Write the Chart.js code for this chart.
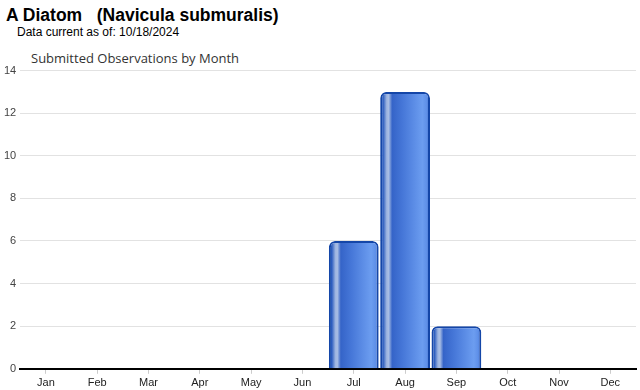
<!DOCTYPE html>
<html>
<head>
<meta charset="utf-8">
<script src="https://cdn.jsdelivr.net/npm/chart.js@4.4.1/dist/chart.umd.min.js"></script>
<style>
  body { margin: 0; background: #fff; font-family: Arial, "Liberation Sans", sans-serif; }
  #wrap { position: relative; width: 640px; height: 390px; overflow: hidden; }
  #title { position: absolute; left: 6px; top: 5px; font-size: 17.5px; font-weight: bold; color: #000; white-space: pre; }
  #sub { position: absolute; left: 17px; top: 25px; font-size: 12px; color: #000; }
  #ctitle { position: absolute; left: 31px; top: 49px; font-size: 13px; color: #333; font-family: "Open Sans", "DejaVu Sans", sans-serif; }
  #box { position: absolute; left: 0; top: 60px; width: 640px; height: 333px; }
</style>
</head>
<body>
<div id="wrap">
  <div id="title">A Diatom   (Navicula submuralis)</div>
  <div id="sub">Data current as of: 10/18/2024</div>
  <div id="ctitle">Submitted Observations by Month</div>
  <div id="box"><canvas id="chart"></canvas></div>
</div>
<script>
  const months = ['Jan', 'Feb', 'Mar', 'Apr', 'May', 'Jun', 'Jul', 'Aug', 'Sep', 'Oct', 'Nov', 'Dec'];
  const observations = [0, 0, 0, 0, 0, 0, 6, 13, 2, 0, 0, 0];
  const yTicks = [0, 2, 4, 6, 8, 10, 12, 14];

  const barPct = 0.97;

  // glossy horizontal gradient for each bar, worked out from the x scale
  function barFill(ctx) {
    const chart = ctx.chart;
    const xs = chart.scales.x;
    if (!xs || ctx.dataIndex === undefined) return '#3a6fd0';
    const center = xs.getPixelForValue(ctx.dataIndex);
    const half = (xs.width / months.length) * barPct / 2;
    if (!isFinite(center) || !isFinite(half) || half <= 0) return '#3a6fd0';
    const g = chart.ctx.createLinearGradient(center - half, 0, center + half, 0);
    g.addColorStop(0, '#1a4aae');
    g.addColorStop(0.06, '#2f5fc0');
    g.addColorStop(0.13, '#9db4e0');
    g.addColorStop(0.17, '#a9bee4');
    g.addColorStop(0.24, '#3564c8');
    g.addColorStop(0.45, '#4677d8');
    g.addColorStop(0.85, '#6c9df0');
    g.addColorStop(0.94, '#5e8fe8');
    g.addColorStop(1, '#1a4aae');
    return g;
  }

  document.addEventListener("DOMContentLoaded", () => {
    const ctx = document.getElementById('chart').getContext('2d');
    new Chart(ctx, {
      type: 'bar',
      data: {
        labels: months,
        datasets: [{
          label: 'Observations',
          data: observations,
          backgroundColor: barFill,
          borderColor: '#1446a8',
          borderWidth: 2,
          borderSkipped: 'bottom',
          borderRadius: { topLeft: 6, topRight: 6, bottomLeft: 0, bottomRight: 0 },
          barPercentage: barPct,
          categoryPercentage: 1
        }]
      },
      options: {
        responsive: true,
        maintainAspectRatio: false,
        animation: false,
        layout: { padding: { top: 4, right: 4, left: 0, bottom: 0 } },
        plugins: {
          legend: { display: false },
          tooltip: { enabled: false }
        },
        scales: {
          x: {
            border: { display: true, color: '#000', width: 2 },
            grid: { display: true, drawOnChartArea: false, drawTicks: true, tickLength: 5, offset: false, color: '#ccc' },
            ticks: { color: '#222', font: { family: 'Arial', size: 11 }, padding: 3 }
          },
          y: {
            min: 0,
            max: 14,
            afterBuildTicks: (axis) => { axis.ticks = yTicks.map(v => ({ value: v })); },
            border: { display: false },
            grid: { color: '#e2e2e2', drawTicks: false },
            ticks: { color: '#444', font: { family: 'Arial', size: 11 }, padding: 4 }
          }
        }
      }
    });
  });
</script>
</body>
</html>
